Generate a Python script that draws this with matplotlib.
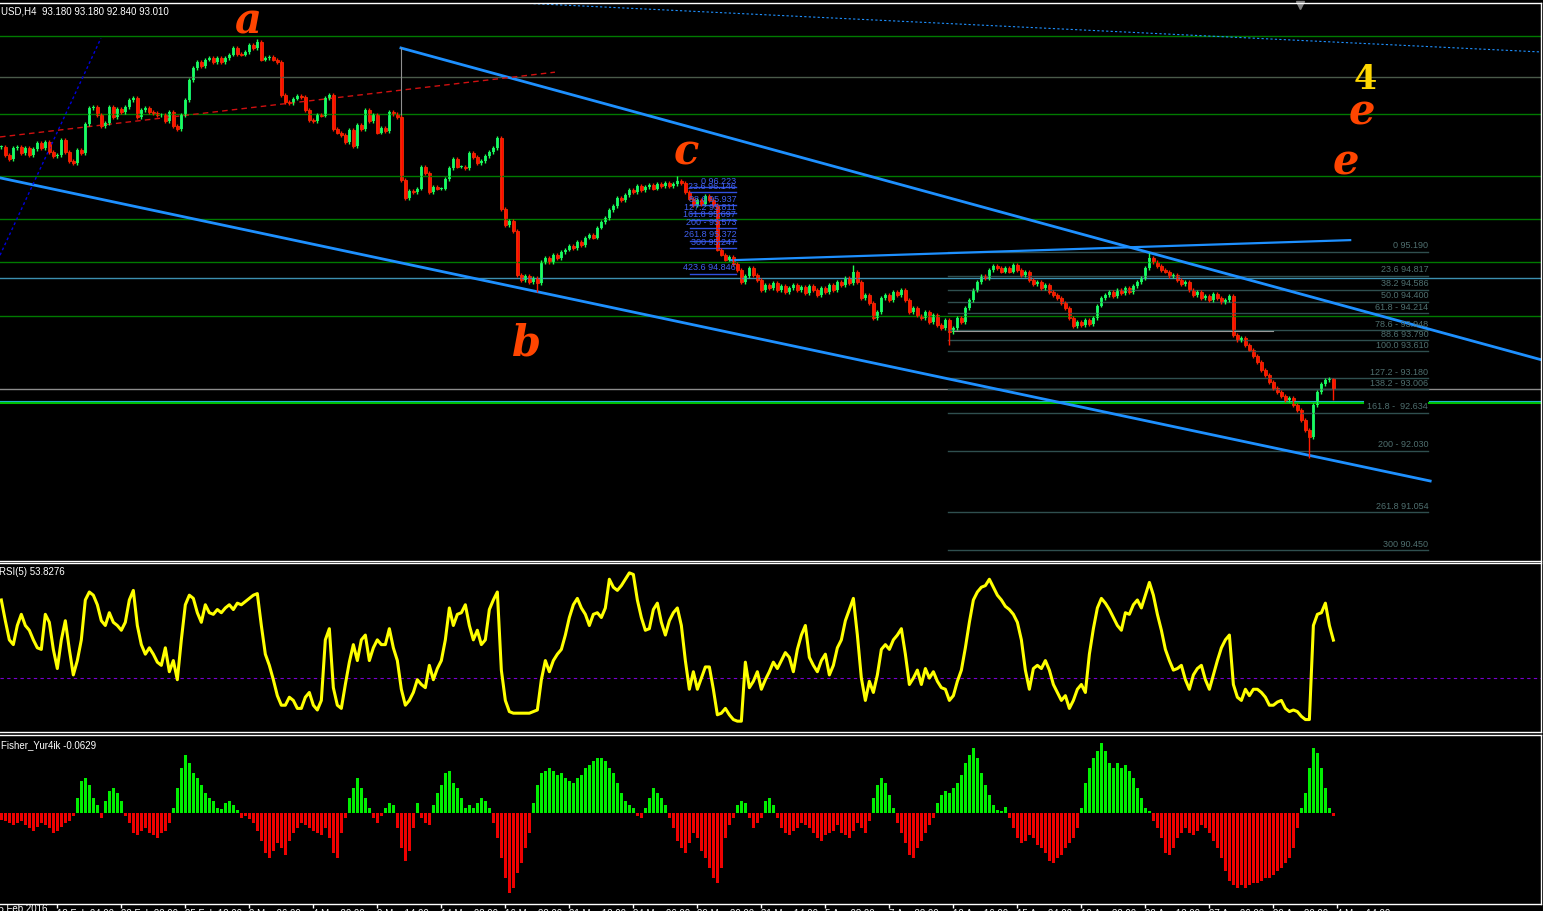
import matplotlib.pyplot as plt
import numpy as np

plt.rcParams['font.family'] = ['Liberation Sans', 'DejaVu Sans']

# ---------------- data ----------------
closes = [
    96.86, 96.73, 96.67, 96.85, 96.86, 96.77, 96.85, 96.73, 96.83, 96.93,
    96.85, 96.94, 96.78, 96.72, 96.73, 96.97, 96.78, 96.64, 96.61, 96.81,
    96.77, 97.23, 97.48, 97.50, 97.37, 97.20, 97.24, 97.50, 97.34, 97.47,
    97.42, 97.50, 97.61, 97.64, 97.34, 97.45, 97.48, 97.42, 97.40, 97.37,
    97.37, 97.28, 97.42, 97.20, 97.15, 97.37, 97.61, 97.93, 98.12, 98.21,
    98.15, 98.25, 98.28, 98.21, 98.28, 98.21, 98.28, 98.33, 98.44, 98.34,
    98.33, 98.37, 98.48, 98.44, 98.53, 98.25, 98.28, 98.29, 98.25, 98.21,
    97.69, 97.58, 97.56, 97.63, 97.67, 97.66, 97.45, 97.29, 97.28, 97.37,
    97.36, 97.64, 97.69, 97.15, 97.09, 97.05, 96.94, 97.13, 96.88, 97.21,
    97.15, 97.45, 97.28, 97.37, 97.09, 97.17, 97.12, 97.42, 97.39, 97.34,
    96.34, 96.05, 96.16, 96.15, 96.20, 96.55, 96.45, 96.15, 96.23, 96.20,
    96.20, 96.35, 96.53, 96.67, 96.55, 96.55, 96.53, 96.77, 96.70, 96.61,
    96.64, 96.72, 96.78, 96.85, 97.01, 95.88, 95.62, 95.69, 95.53, 94.83,
    94.75, 94.81, 94.72, 94.78, 94.70, 95.03, 95.10, 95.03, 95.15, 95.10,
    95.19, 95.23, 95.29, 95.26, 95.35, 95.30, 95.42, 95.46, 95.42, 95.58,
    95.67, 95.73, 95.86, 95.92, 96.05, 96.02, 96.10, 96.18, 96.15, 96.24,
    96.18, 96.23, 96.26, 96.20, 96.27, 96.24, 96.29, 96.24, 96.27, 96.32,
    96.29, 96.15, 96.04, 95.94, 96.02, 95.96, 96.08, 96.02, 95.94, 95.23,
    95.15, 95.07, 95.11, 95.00, 94.91, 94.72, 94.81, 94.94, 94.83, 94.75,
    94.59, 94.67, 94.62, 94.70, 94.59, 94.65, 94.56, 94.62, 94.67, 94.59,
    94.64, 94.54, 94.65, 94.59, 94.51, 94.62, 94.56, 94.67, 94.59, 94.72,
    94.67, 94.78, 94.70, 94.88, 94.72, 94.46, 94.51, 94.38, 94.14, 94.24,
    94.46, 94.51, 94.43, 94.56, 94.51, 94.59, 94.43, 94.24, 94.30, 94.18,
    94.14, 94.24, 94.08, 94.19, 94.03, 93.98, 94.11, 93.92, 93.98, 94.14,
    94.08, 94.30, 94.43, 94.59, 94.72, 94.81, 94.78, 94.91, 94.97, 94.94,
    94.88, 94.94, 94.88, 94.99, 94.91, 94.83, 94.88, 94.75, 94.68, 94.72,
    94.62, 94.67, 94.56, 94.51, 94.46, 94.38, 94.30, 94.14, 94.02, 94.08,
    94.03, 94.11, 94.05, 94.14, 94.34, 94.46, 94.51, 94.56, 94.49, 94.59,
    94.54, 94.62, 94.56, 94.65, 94.72, 94.78, 94.94, 95.10, 95.03, 94.97,
    94.91, 94.88, 94.81, 94.83, 94.75, 94.68, 94.72, 94.59, 94.51, 94.56,
    94.46, 94.49, 94.43, 94.53, 94.46, 94.40, 94.43, 94.49, 93.87, 93.79,
    93.83, 93.71, 93.64, 93.54, 93.44, 93.32, 93.24, 93.13, 93.03, 92.97,
    92.90, 92.84, 92.87, 92.76, 92.68, 92.52, 92.36, 92.25, 92.76, 92.97,
    93.09, 93.16, 93.18, 93.01,
]
# bars with a visibly long shadow
high_marks = {64: 98.58, 169: 96.40, 213: 94.99, 287: 95.18, 333: 93.18}
low_marks = {134: 94.55, 237: 93.71, 327: 91.92, 333: 92.84}

rsi = [
    79, 66, 54, 51, 63, 70, 63, 60, 54, 49, 48, 70, 65, 48, 36, 54, 66, 48, 32, 41,
    54, 79, 84, 82, 76, 66, 63, 71, 65, 63, 60, 65, 79, 85, 63, 51, 45, 49, 45, 40,
    38, 49, 34, 41, 29, 54, 76, 82, 80, 71, 65, 76, 71, 70, 73, 71, 74, 76, 73, 77,
    76, 78, 80, 82, 83, 63, 45, 38, 29, 19, 13, 13, 18, 16, 11, 11, 18, 21, 13, 10,
    16, 54, 61, 24, 13, 11, 26, 40, 51, 41, 54, 57, 41, 49, 54, 51, 51, 61, 49, 41,
    23, 13, 16, 21, 29, 26, 24, 38, 29, 36, 41, 54, 74, 63, 70, 71, 76, 63, 54, 60,
    51, 54, 73, 79, 84, 35, 16, 9, 8, 8, 8, 8, 8, 9, 10, 29, 41, 34, 41, 45,
    48, 57, 68, 76, 80, 74, 70, 63, 70, 71, 68, 74, 92, 87, 85, 88, 92, 96, 95, 79,
    68, 60, 61, 73, 77, 65, 57, 66, 71, 74, 63, 41, 23, 34, 23, 30, 37, 37, 23, 7,
    8, 11, 7, 4, 3, 3, 40, 24, 28, 34, 23, 29, 34, 40, 36, 41, 46, 43, 34, 48,
    57, 63, 43, 38, 34, 41, 45, 32, 38, 49, 54, 66, 73, 80, 57, 30, 16, 28, 21, 32,
    48, 51, 48, 54, 57, 61, 45, 26, 30, 35, 26, 36, 30, 34, 28, 24, 23, 16, 19, 28,
    35, 49, 65, 79, 84, 87, 88, 92, 87, 82, 79, 75, 73, 70, 65, 54, 35, 23, 36, 38,
    36, 41, 35, 26, 21, 16, 19, 11, 16, 23, 26, 21, 45, 61, 74, 80, 77, 73, 68, 63,
    60, 71, 70, 76, 79, 74, 82, 90, 82, 70, 60, 48, 41, 35, 36, 38, 29, 23, 32, 36,
    38, 29, 23, 32, 41, 49, 54, 57, 26, 18, 16, 23, 19, 23, 23, 21, 18, 13, 13, 15,
    16, 11, 9, 10, 9, 6, 4, 4, 63, 70, 71, 77, 63, 53.83,
]

fisher = [
    -0.14, -0.16, -0.20, -0.24, -0.20, -0.16, -0.24, -0.30, -0.36, -0.28,
    -0.20, -0.24, -0.30, -0.40, -0.36, -0.28, -0.20, -0.16, -0.06, 0.30,
    0.64, 0.70, 0.56, 0.30, 0.16, -0.10, 0.24, 0.44, 0.50, 0.40,
    0.24, -0.06, -0.20, -0.40, -0.44, -0.36, -0.30, -0.40, -0.44, -0.50,
    -0.40, -0.36, -0.20, 0.10, 0.50, 0.90, 1.16, 1.00, 0.80, 0.70,
    0.56, 0.40, 0.30, 0.24, 0.10, 0.08, 0.20, 0.24, 0.16, 0.06,
    -0.10, -0.06, -0.12, -0.20, -0.36, -0.56, -0.80, -0.90, -0.76, -0.60,
    -0.70, -0.84, -0.56, -0.40, -0.30, -0.20, -0.24, -0.30, -0.36, -0.40,
    -0.44, -0.30, -0.50, -0.80, -0.90, -0.40, -0.10, 0.30, 0.50, 0.70,
    0.50, 0.30, 0.10, -0.10, -0.20, -0.06, 0.10, 0.20, 0.16, -0.30,
    -0.70, -0.96, -0.76, -0.30, 0.20, -0.10, -0.20, -0.24, 0.16, 0.40,
    0.56, 0.80, 0.84, 0.60, 0.50, 0.30, 0.10, 0.16, 0.10, 0.20,
    0.30, 0.24, 0.10, -0.20, -0.50, -0.90, -1.30, -1.60, -1.50, -1.20,
    -1.00, -0.70, -0.40, 0.20, 0.56, 0.80, 0.84, 0.90, 0.84, 0.76,
    0.80, 0.70, 0.64, 0.60, 0.70, 0.76, 0.90, 0.96, 1.04, 1.10,
    1.10, 1.04, 0.90, 0.80, 0.60, 0.40, 0.24, 0.16, 0.10, -0.06,
    -0.10, 0.10, 0.30, 0.50, 0.40, 0.30, 0.16, -0.10, -0.30, -0.56,
    -0.70, -0.80, -0.60, -0.40, -0.50, -0.76, -0.90, -1.10, -1.30, -1.40,
    -1.10, -0.50, -0.24, -0.10, 0.16, 0.24, 0.20, -0.10, -0.30, -0.20,
    -0.10, 0.24, 0.30, 0.16, -0.10, -0.30, -0.40, -0.44, -0.36, -0.30,
    -0.20, -0.24, -0.30, -0.40, -0.50, -0.56, -0.44, -0.40, -0.36, -0.24,
    -0.40, -0.44, -0.50, -0.36, -0.20, -0.30, -0.40, -0.16, 0.30, 0.56,
    0.70, 0.60, 0.36, 0.10, -0.20, -0.40, -0.60, -0.84, -0.90, -0.70,
    -0.56, -0.40, -0.24, -0.10, 0.20, 0.36, 0.44, 0.40, 0.50, 0.60,
    0.76, 1.00, 1.16, 1.30, 1.10, 0.80, 0.56, 0.36, 0.16, 0.06,
    0.04, 0.12, -0.10, -0.30, -0.50, -0.60, -0.56, -0.44, -0.50, -0.64,
    -0.70, -0.80, -0.96, -1.00, -0.90, -0.84, -0.70, -0.60, -0.50, -0.30,
    0.10, 0.60, 0.90, 1.10, 1.24, 1.40, 1.24, 1.00, 0.90, 1.00,
    0.90, 0.96, 0.84, 0.70, 0.50, 0.30, 0.10, 0.04, -0.16, -0.30,
    -0.50, -0.80, -0.84, -0.70, -0.50, -0.40, -0.30, -0.40, -0.44, -0.36,
    -0.24, -0.30, -0.40, -0.56, -0.70, -0.90, -1.16, -1.36, -1.44, -1.50,
    -1.44, -1.50, -1.44, -1.40, -1.40, -1.36, -1.30, -1.30, -1.24, -1.16,
    -1.10, -1.00, -0.90, -0.70, -0.30, 0.10, 0.40, 0.90, 1.30, 1.20,
    0.90, 0.50, 0.10, -0.0629,
]

# fibo retracement drawn on the last swing
fib_labels = ["0 95.190", "23.6 94.817", "38.2 94.586", "50.0 94.400", "61.8 - 94.214",
              "78.6 - 93.948", "88.6 93.790", "100.0 93.610", "127.2 - 93.180",
              "138.2 - 93.006", "161.8 -  92.634", "200 - 92.030", "261.8 91.054", "300 90.450"]
fib_prices = [95.190, 94.817, 94.586, 94.400, 94.214, 93.948, 93.790, 93.610, 93.180,
              93.006, 92.634, 92.030, 91.054, 90.450]
fib_span = (236.7, 356.7)

# fibo expansion near wave c
ext_labels = ["0 96.223", "23.6 96.146", "88.6 95.937", "127.2 95.811", "161.8 95.697",
              "200 - 95.573", "261.8 95.372", "300 95.247", "423.6 94.846"]
ext_prices = [96.223, 96.146, 95.937, 95.811, 95.697, 95.573, 95.372, 95.247, 94.846]
ext_span = (172.2, 183.7)

# horizontal levels
green_levels = [98.63, 97.39, 96.40, 95.72, 95.03, 94.17]
grey_level = 97.97
cyan_level = 94.78
bid_price = 93.01
support_level = 92.79
base_level = 93.93

# trend lines (bar index, price)
channel_top = ([99.9, 385.4], [98.435, 93.47])
channel_bottom = ([-0.33, 357.2], [96.37, 91.55])
neck_line = ([182.2, 337.2], [95.06, 95.38])
blue_dotted = ([-0.33, 24.9], [95.14, 98.59])
red_dashed = ([-0.33, 138.4], [97.02, 98.05])
top_dotted = ([129.7, 385.4], [99.15, 98.37])
anchor_line = ([99.9, 99.9], [98.435, 97.35])

wave_labels = [("a", 61.7, 98.85), ("b", 131.2, 93.74), ("c", 171.2, 96.78),
               ("e", 340.2, 97.41), ("e", 336.2, 96.61)]
wave_4 = ("4", 341.0, 97.93)

tick_labels = ["18 Feb 04:00", "22 Feb 22:00", "25 Feb 12:00", "2 Mar 06:00", "4 Mar 20:00",
               "9 Mar 14:00", "14 Mar 08:00", "16 Mar 22:00", "21 Mar 12:00", "24 Mar 06:00",
               "29 Mar 20:00", "31 Mar 14:00", "5 Apr 08:00", "7 Apr 22:00", "12 Apr 16:00",
               "15 Apr 04:00", "19 Apr 22:00", "22 Apr 12:00", "27 Apr 06:00", "29 Apr 20:00",
               "4 May 14:00"]
tick_bars = [13.9 + 16 * k for k in range(len(tick_labels))]

# ---------------- figure ----------------
W, H = 1543, 911
fig = plt.figure(figsize=(W / 100, H / 100), dpi=100, facecolor='black')


def panel(top, bottom):
    a = fig.add_axes([0, 1 - bottom / H, 1541 / W, (bottom - top) / H])
    a.set_facecolor('black')
    for s in ['top', 'bottom', 'right']:
        a.spines[s].set_color('white')
        a.spines[s].set_linewidth(1)
    a.spines['left'].set_visible(False)
    a.set_xlim(-0.33, 384.9)
    a.set_yticks([])
    return a


ax = panel(2.5, 560.5)
ax_r = panel(562.5, 732)
ax_f = panel(734.5, 903.5)
ax.set_xticks([])
ax_r.set_xticks([])

ax.set_ylim(90.286, 99.158)
ax_r.set_ylim(-3.8, 102.5)
ax_f.set_ylim(-1.81, 1.57)

# levels
for lv in green_levels:
    ax.axhline(lv, color='#007a00', lw=1)
ax.axhline(grey_level, color='#4a5a4a', lw=1)
ax.axhline(cyan_level, color='#3c8fb0', lw=1)
ax.axhline(bid_price, color='#8c8c8c', lw=1)
for seg in [(-0.33, 340.5), (356.8, 384.9)]:
    ax.plot(seg, [support_level, support_level], color='#00c000', lw=1.5)
    ax.plot(seg, [support_level + 0.025, support_level + 0.025], color='#20b0d0', lw=0.8)

# fibo objects
for lab, p in zip(fib_labels, fib_prices):
    ax.plot(fib_span, [p, p], color='#2f4f4f', lw=1)
    ax.text(fib_span[1], p + 0.025, lab, color='#4f6f6f', fontsize=6.5, ha='right', va='bottom')
ax.plot([238.0, 318.0], [base_level, base_level], color='#9a9a9a', lw=0.8)
for lab, p in zip(ext_labels, ext_prices):
    ax.plot(ext_span, [p, p], color='#3050e0', lw=1)
    ax.text(ext_span[1], p + 0.02, lab, color='#4060f0', fontsize=6.5, ha='right', va='bottom')

# trend lines
ax.plot(*channel_top, color='#1e90ff', lw=2)
ax.plot(*channel_bottom, color='#1e90ff', lw=2)
ax.plot(*neck_line, color='#1e90ff', lw=1.6)
ax.plot(*blue_dotted, color='#0000dd', lw=1, ls=(0, (2, 2)))
ax.plot(*red_dashed, color='#d01010', lw=1, ls=(0, (4, 3)))
ax.plot(*top_dotted, color='#1e90ff', lw=0.8, ls=(0, (2, 2)))
ax.plot(*anchor_line, color='#909090', lw=0.8)

# candles
c = np.array(closes)
o = np.concatenate([[closes[0]], c[:-1]])
x = np.arange(len(c))
hi = np.maximum(o, c) + 0.03
lo = np.minimum(o, c) - 0.03
for k, v in high_marks.items():
    hi[k] = v
for k, v in low_marks.items():
    lo[k] = v
up = c >= o
dn = ~up
ax.vlines(x[up], lo[up], hi[up], color='#20ff50', lw=1)
ax.vlines(x[dn], lo[dn], hi[dn], color='#ff1a00', lw=1)
body = np.maximum(np.abs(c - o), 0.012)
ax.bar(x[up], body[up], bottom=np.minimum(o, c)[up], width=0.72, color='#10e070', lw=0)
ax.bar(x[dn], body[dn], bottom=np.minimum(o, c)[dn], width=0.72, color='#ff0000',
       edgecolor='#ff4000', lw=0.5)

# wave labels
for t, bx, py in wave_labels:
    ax.text(bx, py, t, color='#ff4500', fontsize=30, family='DejaVu Serif', style='italic',
            weight='bold', ha='center', va='center')
ax.text(wave_4[1], wave_4[2], wave_4[0], color='#ffd700', fontsize=24, family='DejaVu Serif',
        weight='bold', ha='center', va='center')
ax.plot([324.7], [99.12], marker='v', color='#808080', ms=6, clip_on=False)

fig.text(1 / W, 1 - 12 / H, "USD,H4  93.180 93.180 92.840 93.010", color='white',
         fontsize=7, va='center', ha='left')

# RSI panel
ax_r.axhline(30, color='#7a00d0', lw=0.8, ls=(0, (3, 3)))
ax_r.plot(x, rsi, color='#ffff00', lw=2.2)
fig.text(-1 / W, 1 - 572 / H, "RSI(5) 53.8276", color='white', fontsize=7, va='center')

# Fisher panel
f = np.array(fisher)
ax_f.bar(x[f >= 0], f[f >= 0], width=0.75, color='#00ee00', lw=0)
ax_f.bar(x[f < 0], f[f < 0], width=0.75, color='#ee0000', lw=0)
fig.text(1 / W, 1 - 745 / H, "Fisher_Yur4ik -0.0629", color='white', fontsize=7, va='center')

ax_f.set_xticks(tick_bars)
ax_f.set_xticklabels(tick_labels)
ax_f.tick_params(axis='x', colors='white', length=3, width=1, pad=1, labelsize=7)
for lbl in ax_f.get_xticklabels():
    lbl.set_ha('left')
ax_f.text(-2.1, -1.81, "15 Feb 2016", color='white', fontsize=7, ha='left', va='top',
          transform=ax_f.transData, clip_on=False)

fig.savefig("out.png", dpi=100, facecolor='black')
